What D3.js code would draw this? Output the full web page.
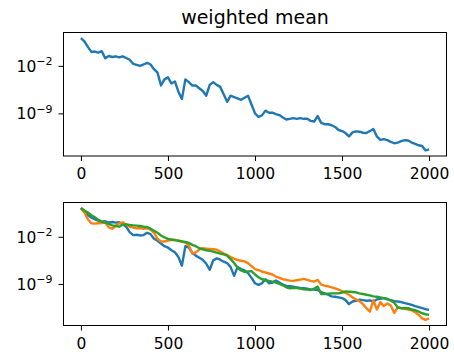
<!DOCTYPE html>
<html lang="en">
  <head>
    <meta charset="UTF-8" />
    <script src="https://cdn.jsdelivr.net/npm/d3@7/dist/d3.min.js"></script>
    <title>weighted mean</title>
    <style>
      body { margin: 0; background: #fff; }
      svg { display: block; font-family: 'DejaVu Sans', sans-serif; }
    </style>
  </head>
  <body>
    <svg id="chart" width="454" height="356"></svg>
    <script>
      // x positions: one sample every 20 iterations, 0..2000
      const steps = d3.range(0, 2001, 20);

      // values are log10 of the plotted quantity
      const weightedExp = [
        2.08, 1.6, 0.8, 0.05, 0.1, -0.05, 0.15, -0.9, -0.55, -0.7,
        -0.6, -0.75, -0.6, -0.85, -1.1, -1.7, -1.85, -2.0, -1.8, -1.55,
        -1.8, -2.5, -3.0, -4.9, -4.0, -3.7, -4.6, -4.3, -5.8, -6.9,
        -4.0, -4.4, -4.9, -4.9, -5.3, -5.7, -6.4, -4.8, -4.4, -4.8,
        -5.1, -6.2, -7.3, -6.4, -6.6, -6.8, -7.0, -6.7, -6.4, -7.7,
        -9.0, -9.5, -9.3, -8.6, -8.9, -8.9, -9.1, -9.25, -9.6, -9.9,
        -9.8, -9.7, -9.8, -9.7, -9.8, -9.8, -10.1, -10.2, -9.4, -10.4,
        -10.6, -10.6, -10.75, -11.0, -11.45, -11.6, -11.9, -12.4, -11.8, -11.65,
        -11.7, -11.85, -11.9, -11.6, -11.3, -12.4, -12.9, -12.8, -12.95, -13.2,
        -13.4, -13.3, -13.1, -12.95, -13.0, -13.3, -13.5, -13.7, -13.8, -14.45,
        -14.3
      ];

      const blueExp = [
        2.26, 1.7, 1.2, 0.85, 0.6, 0.4, 0.25, 0.3, 0.1, 0.2,
        0.1, 0.15, -0.1, -0.5, -1.3, -1.75, -1.7, -1.8, -1.75, -1.4,
        -1.6, -2.3, -2.6, -3.0, -3.4, -3.6, -4.0, -4.3, -5.0, -6.3,
        -3.4, -3.6, -4.4, -4.8, -5.1, -5.4, -6.0, -6.9, -5.5, -5.2,
        -5.4, -5.7, -5.9, -6.5, -7.8, -6.5, -6.8, -7.0, -7.4, -8.1,
        -8.9, -9.15, -8.9, -8.3, -8.9, -8.8, -8.5, -8.8, -9.1, -9.3,
        -9.35, -9.4, -9.5, -9.6, -9.65, -9.7, -9.8, -9.85, -9.9, -10.2,
        -10.4, -10.6, -10.85, -10.9, -11.0, -11.1, -11.4, -12.0, -11.6, -11.5,
        -11.35, -11.4, -11.5, -11.45, -11.6, -11.3, -11.2, -11.1, -11.3, -11.4,
        -11.55, -11.6, -11.7, -11.85, -11.95, -12.1, -12.3, -12.45, -12.6, -12.75,
        -12.85
      ];

      const orangeExp = [
        2.26, 1.6, 0.6, 0.0, -0.05, 0.0, 0.05, 0.1, -0.6, -0.8,
        -0.4, 0.0, 0.15, -0.2, -0.5, -0.65, -0.75, -0.7, -0.8, -0.75,
        -0.95, -1.4, -2.3, -2.7, -2.7, -2.55, -2.5, -2.45, -2.55, -2.7,
        -2.85, -3.3, -4.5, -4.3, -3.9, -3.7, -3.75, -3.8, -3.85, -3.9,
        -4.2, -4.5, -4.7, -5.0, -5.25, -5.45, -5.55, -5.65, -5.9, -6.35,
        -6.8, -6.95, -7.15, -7.3, -7.45, -7.6, -7.9, -8.1, -8.3, -8.4,
        -8.5, -8.55, -8.45, -8.35, -8.25, -8.4, -8.55, -8.65, -8.4, -9.1,
        -9.25, -9.35, -9.5, -9.65, -9.85, -10.05, -10.35, -10.6, -11.0, -11.3,
        -11.55, -12.0, -12.6, -13.1, -11.4, -12.8, -11.7, -12.3, -11.9, -12.2,
        -13.3, -12.5, -12.6, -12.65, -12.8, -12.9, -13.2, -13.6, -14.1, -14.34,
        -14.1
      ];

      const greenExp = [
        2.26, 1.9, 1.6, 1.2, 0.9, 0.5, 0.25, 0.1, -0.1, -0.3,
        -0.4, -0.5, -0.2, -0.15, -0.25, -0.3, -0.35, -0.4, -0.5, -0.55,
        -0.8, -1.1, -1.4, -1.8, -2.1, -2.3, -2.4, -2.5, -2.6, -2.7,
        -2.75, -2.9, -3.2, -3.4, -3.7, -3.85, -4.0, -4.1, -4.2, -4.35,
        -4.5, -4.6, -4.8, -5.3, -5.9, -6.6, -7.0, -7.2, -7.15, -7.1,
        -7.6, -8.0, -8.3, -8.45, -8.55, -8.65, -8.8, -9.0, -9.2, -9.5,
        -9.65, -9.6, -9.6, -9.7, -9.8, -9.85, -9.9, -9.7, -9.4, -10.5,
        -10.5, -10.45, -10.4, -10.4, -10.4, -10.3, -10.1, -10.15, -10.2, -10.25,
        -10.4, -10.5, -10.6, -10.7, -10.85, -10.9, -11.0, -11.1, -11.2, -11.5,
        -11.8, -12.5, -12.6, -12.6, -12.6, -12.8, -12.9, -13.1, -13.35, -13.5,
        -13.6
      ];

      const xTicks = [0, 500, 1000, 1500, 2000];
      const yTickExps = [-2, -9];
      const colors = ['#1f77b4', '#ff7f0e', '#2ca02c'];

      const svg = d3.select('#chart');
      const left = 63.5, right = 446.5;
      const panels = [
        { top: 32.5, bottom: 156, series: [weightedExp], title: 'weighted mean' },
        { top: 202.5, bottom: 325.5, series: [blueExp, orangeExp, greenExp] }
      ];

      const x = d3.scaleLinear().domain([-100, 2100]).range([left, right]);

      panels.forEach((p) => {
        // log range padded 5% each side, like matplotlib's autoscale
        const all = p.series.flat();
        const lo = d3.min(all), hi = d3.max(all);
        const pad = (hi - lo) * 0.05;
        const y = d3.scaleLog()
          .domain([Math.pow(10, lo - pad), Math.pow(10, hi + pad)])
          .range([p.bottom, p.top]);

        const g = svg.append('g');

        g.append('defs').append('clipPath')
          .attr('id', 'clip' + p.top)
          .append('rect')
          .attr('x', left).attr('y', p.top)
          .attr('width', right - left).attr('height', p.bottom - p.top);

        const line = d3.line()
          .x((d, i) => x(steps[i]))
          .y((d) => y(Math.pow(10, d)));

        g.append('g')
          .attr('clip-path', `url(#clip${p.top})`)
          .selectAll('path')
          .data(p.series)
          .enter()
          .append('path')
          .attr('d', line)
          .attr('fill', 'none')
          .attr('stroke', (d, i) => colors[i])
          .attr('stroke-width', 2.4)
          .attr('stroke-linejoin', 'round');

        // x axis
        const xAxis = d3.axisBottom(x)
          .tickValues(xTicks)
          .tickFormat(d3.format('d'))
          .tickSize(5)
          .tickSizeOuter(0)
          .tickPadding(7);
        const gx = g.append('g')
          .attr('transform', `translate(0, ${p.bottom})`)
          .call(xAxis);
        gx.select('.domain').remove();
        gx.selectAll('text').attr('font-size', 15.5).attr('font-family', 'DejaVu Sans').attr('fill', '#000');

        // y axis with 10^n labels
        const yAxis = d3.axisLeft(y)
          .tickValues(yTickExps.map((e) => Math.pow(10, e)))
          .tickSize(5)
          .tickSizeOuter(0)
          .tickPadding(6)
          .tickFormat(() => '');
        const gy = g.append('g')
          .attr('transform', `translate(${left}, 0)`)
          .call(yAxis);
        gy.select('.domain').remove();
        gy.selectAll('.tick text')
          .attr('font-size', 15.5)
          .attr('font-family', 'DejaVu Sans')
          .attr('fill', '#000')
          .attr('dy', '0.36em')
          .each(function (d, i) {
            const t = d3.select(this);
            t.append('tspan').text('10');
            t.append('tspan')
              .text('\u2212' + Math.abs(yTickExps[i]))
              .attr('font-size', 11)
              .attr('dy', '-0.6em');
          });

        g.selectAll('.tick line').attr('stroke', '#000').attr('stroke-width', 1);

        // frame
        g.append('rect')
          .attr('x', left).attr('y', p.top)
          .attr('width', right - left).attr('height', p.bottom - p.top)
          .attr('fill', 'none')
          .attr('stroke', '#000')
          .attr('stroke-width', 1);

        if (p.title) {
          g.append('text')
            .attr('x', (left + right) / 2)
            .attr('y', p.top - 9)
            .attr('text-anchor', 'middle')
            .attr('font-size', 19)
            .attr('fill', '#000')
            .text(p.title);
        }
      });
    </script>
  </body>
</html>
